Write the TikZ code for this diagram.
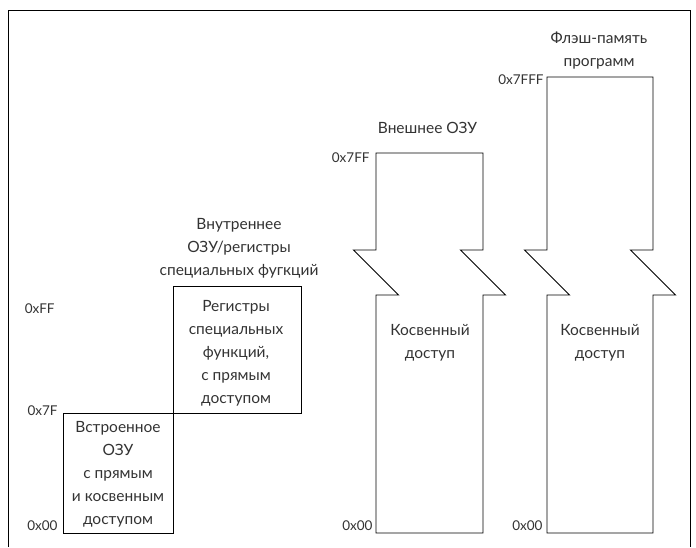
\documentclass[tikz,border=0pt]{standalone}
\usepackage{fontspec}
\setmainfont{Lato}
\begin{document}
\begin{tikzpicture}[x=1pt,y=-1pt,line width=0.9pt,
  txt/.style={align=center,font=\fontsize{15.5}{23}\selectfont,text=black!80,inner sep=0pt},
  adr/.style={anchor=east,font=\fontsize{13.5}{15}\selectfont,text=black!80,inner sep=0pt}]
  \useasboundingbox (0,0) rectangle (696,547);
  \draw[line width=0.7pt] (8,547) -- (8,10) -- (690,10) -- (690,547);
  % internal RAM and SFR
  \draw (63,413) rectangle (173,533); \draw (173,286) rectangle (301,413);
  \node[txt] (ozu) at (118,474.5) {Встроенное\\ОЗУ\\с прямым\\и косвенным\\доступом};
  \node[txt] (sfr) at (236,353) {Регистры\\специальных\\функций,\\с прямым\\доступом};
  \node[txt] (vnutr) at (239,248) {Внутреннее\\ОЗУ/регистры\\специальных фугкций};
  \node[adr] (aFF) at (55,309) {0xFF}; \node[adr] (a7F) at (58,411) {0x7F}; \node[adr] (a00) at (58,526) {0x00};
  % external RAM
  \draw (376,533) -- (376,295) -- ++(22.5,0) -- ++(-45,-45) -- ++(22.5,0) -- (376,153) -- (483,153) -- (483,250) -- ++(-22.5,0) -- ++(45,45) -- ++(-22.5,0) -- (483,533) -- cycle;
  \node[txt] (vnesh) at (427.5,127.5) {Внешнее ОЗУ};
  \node[txt] (kosv1) at (430,343) {Косвенный\\доступ};
  \node[adr] (b7FF) at (370,157.5) {0x7FF}; \node[adr] (b00) at (373,526) {0x00};
  % program flash
  \draw (547,533) -- (547,295) -- ++(22.5,0) -- ++(-45,-45) -- ++(22.5,0) -- (547,77) -- (653,77) -- (653,250) -- ++(-22.5,0) -- ++(45,45) -- ++(-22.5,0) -- (653,533) -- cycle;
  \node[txt] (flash) at (599,51) {Флэш-память\\программ};
  \node[txt] (kosv2) at (600,343) {Косвенный\\доступ};
  \node[adr] (c7FFF) at (544,80) {0x7FFF}; \node[adr] (c00) at (543,526) {0x00};
\end{tikzpicture}
\end{document}
